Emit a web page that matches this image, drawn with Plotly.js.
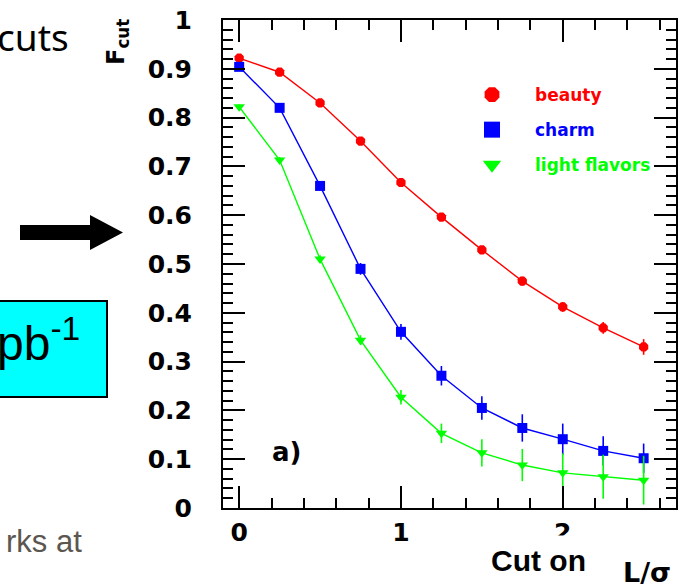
<!DOCTYPE html>
<html>
<head>
<meta charset="utf-8">
<script src="https://cdn.plot.ly/plotly-3.0.1.min.js"></script>
<style>html,body{margin:0;padding:0;background:#fff;}#chart{width:684px;height:588px;}</style>
</head>
<body>
<div id="chart"></div>
<script>
// ---- data ----
var cutValues = [0, 0.25, 0.5, 0.75, 1.0, 1.25, 1.5, 1.75, 2.0, 2.25, 2.5];
var beauty = [0.922, 0.893, 0.830, 0.752, 0.667, 0.596, 0.529, 0.465, 0.412, 0.369, 0.330];
var beautyErr = [0.004, 0.004, 0.005, 0.005, 0.006, 0.007, 0.008, 0.009, 0.010, 0.012, 0.016];
var charm = [0.904, 0.820, 0.660, 0.490, 0.361, 0.271, 0.205, 0.164, 0.141, 0.117, 0.102];
var charmErr = [0.005, 0.007, 0.009, 0.012, 0.016, 0.020, 0.024, 0.028, 0.032, 0.030, 0.030];
var light = [0.822, 0.713, 0.510, 0.344, 0.227, 0.153, 0.113, 0.088, 0.072, 0.064, 0.057];
var lightErr = [0.005, 0.006, 0.008, 0.010, 0.015, 0.020, 0.028, 0.033, 0.040, 0.045, 0.050];
var seriesNames = ['beauty', 'charm', 'light flavors'];
var xTickLabels = ['0', '1', '2'];

// ---- geometry helpers (pixel -> paper) for decorations ----
var L = 223, R = 8, T = 20, B = 80, W = 684, H = 588;
var pw = W - L - R, ph = H - T - B;
function PX(px) { return (px - L) / pw; }
function PY(py) { return (H - B - py) / ph; }

var colors = ['#ff0000', '#0000ff', '#00ff00'];
var symbols = ['octagon', 'square', 'triangle-down'];
var ys = [beauty, charm, light];
var errs = [beautyErr, charmErr, lightErr];

var traces = [];
for (var i = 0; i < 3; i++) {
  traces.push({
    x: cutValues, y: ys[i], type: 'scatter', mode: 'lines+markers',
    line: {color: colors[i], width: 1.4},
    marker: {color: colors[i], symbol: symbols[i], size: 10},
    error_y: {type: 'data', array: errs[i], visible: true, color: colors[i], thickness: 1.6, width: 0},
    showlegend: false, hoverinfo: 'skip'
  });
}
// legend entries (larger legend symbols, as in the original key)
for (var j = 0; j < 3; j++) {
  traces.push({
    x: [null], y: [null], type: 'scatter', mode: 'markers',
    name: '<span style="color:' + colors[j] + '">' + seriesNames[j] + '</span>',
    legendgroup: 'g' + j,
    marker: {color: colors[j], symbol: symbols[j], size: 16}
  });
}

var axisCommon = {
  showline: true, linewidth: 2, linecolor: '#000', mirror: 'ticks',
  ticks: 'inside', ticklen: 22, tickwidth: 2, tickcolor: '#000',
  showgrid: false, zeroline: false,
  tickfont: {family: 'DejaVu Sans', size: 25, color: '#000', weight: 'bold'}
};

var layout = {
  width: W, height: H,
  margin: {l: L, r: R, t: T, b: B},
  paper_bgcolor: '#fff', plot_bgcolor: '#fff',
  showlegend: true,
  legend: {
    x: PX(449), y: PY(77), xanchor: 'left', yanchor: 'top',
    bgcolor: 'rgba(0,0,0,0)', borderwidth: 0,
    itemwidth: 76, tracegroupgap: 10,
    font: {family: 'DejaVu Sans', size: 17, weight: 'bold'}
  },
  xaxis: Object.assign({}, axisCommon, {
    range: [-0.1, 2.7], tickmode: 'array', tickvals: [0, 1, 2], ticktext: xTickLabels,
    ticklabelstandoff: 1,
    minor: {dtick: 0.2, tick0: 0, ticks: 'inside', ticklen: 10, tickwidth: 2, tickcolor: '#000'}
  }),
  yaxis: Object.assign({}, axisCommon, {
    range: [0, 1], dtick: 0.1, tick0: 0, ticklabelstandoff: 24,
    minor: {dtick: 0.02, tick0: 0, ticks: 'inside', ticklen: 10, tickwidth: 2, tickcolor: '#000'}
  }),
  shapes: [
    {type: 'rect', xref: 'paper', yref: 'paper', x0: PX(-10), x1: PX(107), y0: PY(397), y1: PY(301),
     fillcolor: '#00ffff', line: {color: '#000', width: 2}, layer: 'above'},
    {type: 'path', xref: 'paper', yref: 'paper',
     path: 'M' + PX(20) + ',' + PY(225) + ' L' + PX(90) + ',' + PY(225) + ' L' + PX(90) + ',' + PY(215) +
           ' L' + PX(123) + ',' + PY(232.5) + ' L' + PX(90) + ',' + PY(250) + ' L' + PX(90) + ',' + PY(240) +
           ' L' + PX(20) + ',' + PY(240) + ' Z',
     fillcolor: '#000', line: {color: '#000', width: 0}}
  ],
  annotations: [
    {text: 'cuts', xref: 'paper', yref: 'paper', x: PX(71), y: PY(36), xanchor: 'right', yanchor: 'middle',
     showarrow: false, font: {family: 'Noto Sans', size: 37, color: '#000'}},
    {text: 'pb<sup>-1</sup>', xref: 'paper', yref: 'paper', x: PX(82), y: PY(340), xanchor: 'right', yanchor: 'middle',
     showarrow: false, font: {family: 'Liberation Sans', size: 48, color: '#000'}},
    {text: 'rks at', xref: 'paper', yref: 'paper', x: PX(84), y: PY(541), xanchor: 'right', yanchor: 'middle',
     showarrow: false, font: {family: 'Liberation Sans', size: 31, color: '#5c5650'}},
    {text: 'F<sub>cut</sub>', xref: 'paper', yref: 'paper', x: PX(117), y: PY(42), xanchor: 'center', yanchor: 'middle',
     textangle: -90, showarrow: false, font: {family: 'DejaVu Sans', size: 24, color: '#000', weight: 'bold'}},
    {text: 'a)', xref: 'paper', yref: 'paper', x: PX(286), y: PY(452), xanchor: 'center', yanchor: 'middle',
     showarrow: false, font: {family: 'DejaVu Sans', size: 26, color: '#000', weight: 'bold'}},
    {text: 'Cut on', xref: 'paper', yref: 'paper', x: PX(538), y: PY(560), xanchor: 'center', yanchor: 'middle',
     showarrow: false, bgcolor: '#fff', borderpad: 8,
     font: {family: 'Liberation Sans', size: 30, color: '#000', weight: 'bold'}},
    {text: 'L/σ', xref: 'paper', yref: 'paper', x: PX(647), y: PY(572), xanchor: 'center', yanchor: 'middle',
     showarrow: false, font: {family: 'DejaVu Sans', size: 27, color: '#000', weight: 'bold'}}
  ]
};

Plotly.newPlot('chart', traces, layout, {displayModeBar: false, staticPlot: true});
</script>
</body>
</html>
